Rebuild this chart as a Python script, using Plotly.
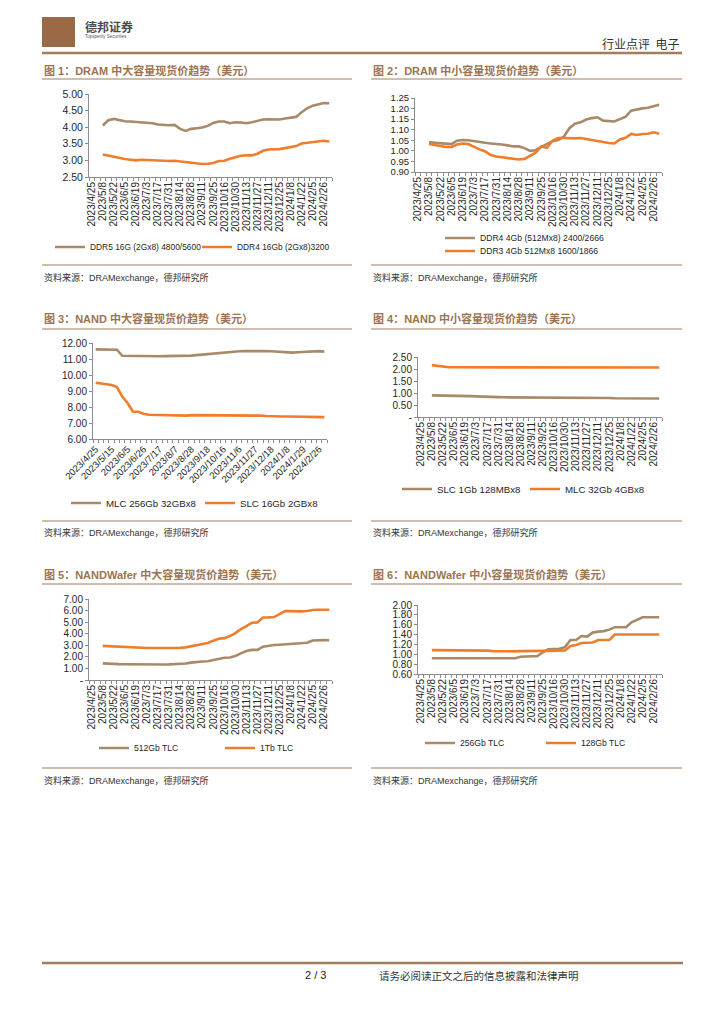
import plotly.graph_objects as go

W, H = 724, 1024

# ---------------- data ----------------
dates = ["2023/4/25", "2023/5/1", "2023/5/8", "2023/5/15", "2023/5/22", "2023/5/29",
         "2023/6/5", "2023/6/12", "2023/6/19", "2023/6/26", "2023/7/3", "2023/7/10",
         "2023/7/17", "2023/7/24", "2023/7/31", "2023/8/7", "2023/8/14", "2023/8/21",
         "2023/8/28", "2023/9/4", "2023/9/11", "2023/9/18", "2023/9/25", "2023/10/9",
         "2023/10/16", "2023/10/23", "2023/10/30", "2023/11/6", "2023/11/13", "2023/11/20",
         "2023/11/27", "2023/12/4", "2023/12/11", "2023/12/18", "2023/12/25", "2024/1/1",
         "2024/1/8", "2024/1/15", "2024/1/22", "2024/1/29", "2024/2/5", "2024/2/19",
         "2024/2/26", "2024/3/4"]

# Fig 1: DRAM large capacity
ddr5_16g = [None, None, 4.05, 4.21, 4.25, 4.21, 4.18, 4.17, 4.16, 4.16, 4.14, 4.12, 4.08, 4.06,
            4.06, 4.07, 3.95, 3.89, 3.95, 3.97, 3.99, 4.04, 4.13, 4.17, 4.17, 4.12, 4.15, 4.14,
            4.12, 4.15, 4.20, 4.23, 4.24, 4.24, 4.23, 4.26, 4.29, 4.31, 4.45, 4.57, 4.65, 4.69,
            4.73, 4.72]
ddr4_16g = [None, None, 3.18, 3.14, 3.11, 3.08, 3.04, 3.02, 3.00, 3.02, 3.01, 3.00, 3.00, 2.99,
            2.98, 2.99, 2.97, 2.93, 2.92, 2.91, 2.89, 2.90, 2.92, 2.98, 2.99, 3.05, 3.10, 3.14,
            3.15, 3.15, 3.20, 3.29, 3.33, 3.33, 3.34, 3.37, 3.39, 3.43, 3.51, 3.53, 3.55, 3.56,
            3.59, 3.57]

# Fig 2: DRAM small capacity
ddr4_4g = [None, None, 1.040, 1.038, 1.035, 1.034, 1.032, 1.048, 1.051, 1.050, 1.045, 1.040,
           1.038, 1.035, 1.034, 1.030, 1.026, 1.021, 1.021, 1.013, 1.000, 1.003, 1.019, 1.032,
           1.046, 1.051, 1.067, 1.107, 1.128, 1.135, 1.148, 1.155, 1.159, 1.143, 1.140, 1.139,
           1.150, 1.161, 1.190, 1.196, 1.201, 1.204, 1.212, 1.218]
ddr3_4g = [None, None, 1.032, 1.029, 1.023, 1.018, 1.018, 1.030, 1.035, 1.032, 1.019, 1.007,
           0.997, 0.980, 0.973, 0.970, 0.967, 0.962, 0.959, 0.962, 0.975, 0.991, 1.021, 1.015,
           1.048, 1.061, 1.061, 1.059, 1.059, 1.061, 1.056, 1.053, 1.046, 1.042, 1.037, 1.035,
           1.054, 1.062, 1.080, 1.075, 1.080, 1.081, 1.088, 1.081]

# Fig 3: NAND large capacity
mlc_256g = [11.60, 11.60, 11.60, 11.60, 11.58, 11.20, 11.19, 11.19, 11.18, 11.17, 11.17, 11.17,
            11.17, 11.18, 11.18, 11.19, 11.21, 11.22, 11.21, 11.24, 11.27, 11.30, 11.34, 11.38,
            11.42, 11.44, 11.46, 11.48, 11.49, 11.50, 11.50, 11.50, 11.49, 11.48, 11.46, 11.43,
            11.40, 11.40, 11.42, 11.44, 11.47, 11.49, 11.49, 11.46]
slc_16g = [9.52, 9.47, 9.43, 9.38, 9.25, 8.65, 8.25, 7.72, 7.70, 7.58, 7.52, 7.51, 7.51, 7.51,
           7.52, 7.50, 7.47, 7.46, 7.49, 7.49, 7.48, 7.48, 7.48, 7.48, 7.48, 7.48, 7.47, 7.47,
           7.46, 7.46, 7.46, 7.46, 7.44, 7.42, 7.41, 7.41, 7.41, 7.41, 7.40, 7.39, 7.38, 7.37,
           7.37, 7.37]

# Fig 4: NAND small capacity
slc_1g = [None, None, 0.90, 0.90, 0.89, 0.89, 0.88, 0.88, 0.87, 0.87, 0.86, 0.86, 0.85, 0.84,
          0.83, 0.82, 0.82, 0.81, 0.81, 0.80, 0.79, 0.79, 0.79, 0.80, 0.81, 0.82, 0.82, 0.82,
          0.82, 0.81, 0.81, 0.80, 0.80, 0.79, 0.79, 0.78, 0.78, 0.77, 0.77, 0.76, 0.76, 0.76,
          0.76, 0.77]
mlc_32g = [None, None, 2.16, 2.12, 2.08, 2.07, 2.07, 2.07, 2.07, 2.07, 2.07, 2.07, 2.07, 2.06,
           2.06, 2.05, 2.05, 2.05, 2.05, 2.05, 2.05, 2.05, 2.05, 2.06, 2.06, 2.06, 2.06, 2.06,
           2.06, 2.06, 2.06, 2.06, 2.06, 2.06, 2.06, 2.06, 2.06, 2.06, 2.06, 2.06, 2.06, 2.06,
           2.06, 2.06]

# Fig 5: NAND wafer large capacity
wafer_512g = [None, None, 1.44, 1.40, 1.38, 1.37, 1.36, 1.35, 1.35, 1.35, 1.35, 1.35, 1.34, 1.34,
              1.35, 1.36, 1.40, 1.43, 1.50, 1.57, 1.60, 1.62, 1.72, 1.82, 1.93, 1.95, 2.08, 2.30,
              2.50, 2.60, 2.60, 2.88, 2.98, 3.02, 3.05, 3.08, 3.10, 3.10, 3.17, 3.22, 3.42, 3.45,
              3.45, 3.43]
wafer_1t = [None, None, 2.95, 2.92, 2.91, 2.88, 2.85, 2.79, 2.77, 2.76, 2.76, 2.76, 2.76, 2.75,
            2.75, 2.76, 2.78, 2.82, 2.91, 3.02, 3.08, 3.20, 3.40, 3.56, 3.62, 3.80, 4.05, 4.40,
            4.65, 4.95, 4.98, 5.40, 5.41, 5.44, 5.70, 5.96, 5.95, 5.93, 5.93, 5.96, 6.05, 6.07,
            6.08, 6.07]

# Fig 6: NAND wafer small capacity
wafer_256g = [None, None, 0.92, 0.92, 0.92, 0.92, 0.925, 0.93, 0.935, 0.935, 0.935, 0.93, 0.93,
              0.92, 0.92, 0.92, 0.92, 0.92, 0.95, 0.96, 0.96, 0.96, 1.04, 1.10, 1.11, 1.11, 1.145,
              1.29, 1.29, 1.37, 1.36, 1.44, 1.46, 1.47, 1.50, 1.55, 1.55, 1.55, 1.65, 1.70, 1.75,
              1.75, 1.75, 1.75]
wafer_128g = [None, None, 1.085, 1.085, 1.085, 1.085, 1.085, 1.085, 1.085, 1.08, 1.08, 1.075,
              1.075, 1.065, 1.06, 1.06, 1.06, 1.06, 1.065, 1.07, 1.07, 1.07, 1.07, 1.07, 1.07,
              1.07, 1.08, 1.17, 1.19, 1.23, 1.24, 1.24, 1.29, 1.29, 1.29, 1.40, 1.40, 1.40, 1.40,
              1.40, 1.40, 1.40, 1.40, 1.40]

y1_ticks = [2.5, 3.0, 3.5, 4.0, 4.5, 5.0]
y1_text = ["2.50", "3.00", "3.50", "4.00", "4.50", "5.00"]
y2_ticks = [0.90, 0.95, 1.00, 1.05, 1.10, 1.15, 1.20, 1.25]
y2_text = ["0.90", "0.95", "1.00", "1.05", "1.10", "1.15", "1.20", "1.25"]
y3_ticks = [6, 7, 8, 9, 10, 11, 12]
y3_text = ["6.00", "7.00", "8.00", "9.00", "10.00", "11.00", "12.00"]
y4_ticks = [0, 0.5, 1.0, 1.5, 2.0, 2.5]
y4_text = ["-", "0.50", "1.00", "1.50", "2.00", "2.50"]
y5_ticks = [0, 1, 2, 3, 4, 5, 6, 7]
y5_text = ["-", "1.00", "2.00", "3.00", "4.00", "5.00", "6.00", "7.00"]
y6_ticks = [0.6, 0.8, 1.0, 1.2, 1.4, 1.6, 1.8, 2.0]
y6_text = ["0.60", "0.80", "1.00", "1.20", "1.40", "1.60", "1.80", "2.00"]

titles = ["图 1：DRAM 中大容量现货价趋势（美元）", "图 2：DRAM 中小容量现货价趋势（美元）",
          "图 3：NAND 中大容量现货价趋势（美元）", "图 4：NAND 中小容量现货价趋势（美元）",
          "图 5：NANDWafer 中大容量现货价趋势（美元）", "图 6：NANDWafer 中小容量现货价趋势（美元）"]
source_text = "资料来源：DRAMexchange，德邦研究所"

BROWN = "#a88a68"
ORANGE = "#f07d2c"
TITLE_C = "#9c7452"
RULE_C = "#a27d5a"
AXIS_C = "#8c8c8c"
TXT = "#262626"
FONT = "Liberation Sans, Arial, Noto Sans CJK SC, sans-serif"


def px(x):
    return x / W


def py(y):
    return 1 - y / H


charts = [
    dict(xd=(89, 332), yd=(94, 177), yr=(2.5, 5.0), yt=(y1_ticks, y1_text), step=2, ang=-90, xf=10, yf=10.5,
         series=[("DDR5 16G (2Gx8) 4800/5600", ddr5_16g, BROWN, (63, 247)),
                 ("DDR4 16Gb (2Gx8)3200", ddr4_16g, ORANGE, (210, 247))], lf=8.4),
    dict(xd=(415, 662), yd=(98, 172), yr=(0.9, 1.25), yt=(y2_ticks, y2_text), step=2, ang=-90, xf=10, yf=9.5,
         series=[("DDR4 4Gb (512Mx8) 2400/2666", ddr4_4g, BROWN, (453, 238)),
                 ("DDR3 4Gb 512Mx8 1600/1866", ddr3_4g, ORANGE, (453, 251))], lf=8.6),
    dict(xd=(93, 327), yd=(343, 439), yr=(6, 12), yt=(y3_ticks, y3_text), step=3, ang=-45, xf=9.5, yf=10,
         series=[("MLC 256Gb 32GBx8", mlc_256g, BROWN, (79, 503)),
                 ("SLC 16Gb 2GBx8", slc_16g, ORANGE, (213, 503))], lf=9.7),
    dict(xd=(418, 662), yd=(357, 417), yr=(0, 2.5), yt=(y4_ticks, y4_text), step=2, ang=-90, xf=10, yf=10,
         series=[("SLC 1Gb 128MBx8", slc_1g, BROWN, (410, 489)),
                 ("MLC 32Gb 4GBx8", mlc_32g, ORANGE, (538, 489))], lf=9.7),
    dict(xd=(89, 332), yd=(599, 680), yr=(0, 7), yt=(y5_ticks, y5_text), step=2, ang=-90, xf=10, yf=10,
         series=[("512Gb TLC", wafer_512g, BROWN, (107, 748)),
                 ("1Tb TLC", wafer_1t, ORANGE, (233, 748))], lf=8.6),
    dict(xd=(418, 662), yd=(605, 674), yr=(0.6, 2.0), yt=(y6_ticks, y6_text), step=2, ang=-90, xf=10, yf=10,
         series=[("256Gb TLC", wafer_256g, BROWN, (433, 743)),
                 ("128Gb TLC", wafer_128g, ORANGE, (554, 743))], lf=8.6),
]

fig = go.Figure()
xs = list(range(len(dates)))
layout = {}
leg_n = 0
for i, c in enumerate(charts, start=1):
    xa = "xaxis" if i == 1 else f"xaxis{i}"
    ya = "yaxis" if i == 1 else f"yaxis{i}"
    xr = "x" if i == 1 else f"x{i}"
    yr = "y" if i == 1 else f"y{i}"
    layout[xa] = dict(
        domain=[px(c["xd"][0]), px(c["xd"][1])], anchor=yr,
        range=[-0.5, len(dates) - 0.5], tickmode="array",
        tickvals=xs[::c["step"]], ticktext=dates[::c["step"]], tickangle=c["ang"],
        tickfont=dict(size=c["xf"], color=TXT, family=FONT),
        showline=True, linecolor=AXIS_C, linewidth=1, ticks="", showgrid=False, zeroline=False,
        minor=dict(tickmode="linear", tick0=-0.5, dtick=1, ticks="outside", ticklen=3,
                   tickcolor=AXIS_C, showgrid=False),
        fixedrange=True)
    layout[ya] = dict(
        domain=[py(c["yd"][1]), py(c["yd"][0])], anchor=xr, range=list(c["yr"]),
        tickmode="array", tickvals=c["yt"][0], ticktext=c["yt"][1],
        tickfont=dict(size=c["yf"], color=TXT, family=FONT),
        showline=True, linecolor=AXIS_C, linewidth=1, ticks="outside", ticklen=3, tickcolor=AXIS_C,
        showgrid=False, zeroline=False, fixedrange=True)
    for name, vals, col, (lx, ly) in c["series"]:
        leg_n += 1
        lg = "legend" if leg_n == 1 else f"legend{leg_n}"
        fig.add_trace(go.Scatter(x=xs, y=vals, mode="lines", name=name,
                                 line=dict(color=col, width=2.6), xaxis=xr, yaxis=yr,
                                 legend=lg, connectgaps=False, hoverinfo="skip"))
        layout[lg] = dict(x=px(lx - 13), y=py(ly), xanchor="left", yanchor="middle",
                          bgcolor="rgba(0,0,0,0)", borderwidth=0, itemwidth=30,
                          font=dict(size=c["lf"], color=TXT, family=FONT))

shapes = []
annotations = []


def hline(x0, x1, y, width=1, color=RULE_C):
    shapes.append(dict(type="line", xref="paper", yref="paper", x0=px(x0), x1=px(x1),
                       y0=py(y), y1=py(y), line=dict(color=color, width=width)))


def text(x, y, s, size, color=TXT, anchor="left", family=FONT):
    annotations.append(dict(x=px(x), y=py(y), xref="paper", yref="paper", text=s,
                            showarrow=False, xanchor=anchor, yanchor="middle",
                            font=dict(size=size, color=color, family=family)))


# header
shapes.append(dict(type="rect", xref="paper", yref="paper", x0=px(42), x1=px(75),
                   y0=py(47), y1=py(17), fillcolor="#9a6a46", line=dict(width=0)))
text(83, 26, "<b>德邦证券</b>", 12, "#4a4a4a", family="Noto Sans CJK SC, sans-serif")
text(83, 36, "Topsperity Securities", 4.5, "#555555")
text(681, 43, "行业点评  电子", 12, "#333333", anchor="right", family="Noto Sans CJK SC, sans-serif")
hline(42, 682, 53, 2.5)

# panel titles / rules / sources
rows = [(70, 79, 265, 277), (318, 329, 521, 532), (574, 584, 768, 780)]
cols = [(42, 352), (371, 682)]
k = 0
for (ty, uy, sy, st) in rows:
    for (x0, x1) in cols:
        text(x0, ty, "<b>" + titles[k] + "</b>", 11, TITLE_C,
             family="Liberation Sans, Noto Sans CJK SC, sans-serif")
        hline(x0, x1, uy, 1.2)
        hline(x0, x1, sy, 1.2)
        text(x0, st, source_text, 9, "#333333",
             family="Liberation Sans, Noto Sans CJK SC, sans-serif")
        k += 1

# footer
hline(42, 683, 963, 2.5)
text(315, 975, "2 / 3", 11, "#222222", anchor="center")
text(377, 975, "请务必阅读正文之后的信息披露和法律声明", 10.5, "#333333",
     family="Noto Sans CJK SC, sans-serif")

fig.update_layout(width=W, height=H, margin=dict(l=0, r=0, t=0, b=0, autoexpand=False),
                  paper_bgcolor="white", plot_bgcolor="white", showlegend=True,
                  shapes=shapes, annotations=annotations, **layout)

fig.write_html("out.html", config={"displayModeBar": False},
               post_script="document.body.style.margin='0';document.body.style.overflow='hidden';")
